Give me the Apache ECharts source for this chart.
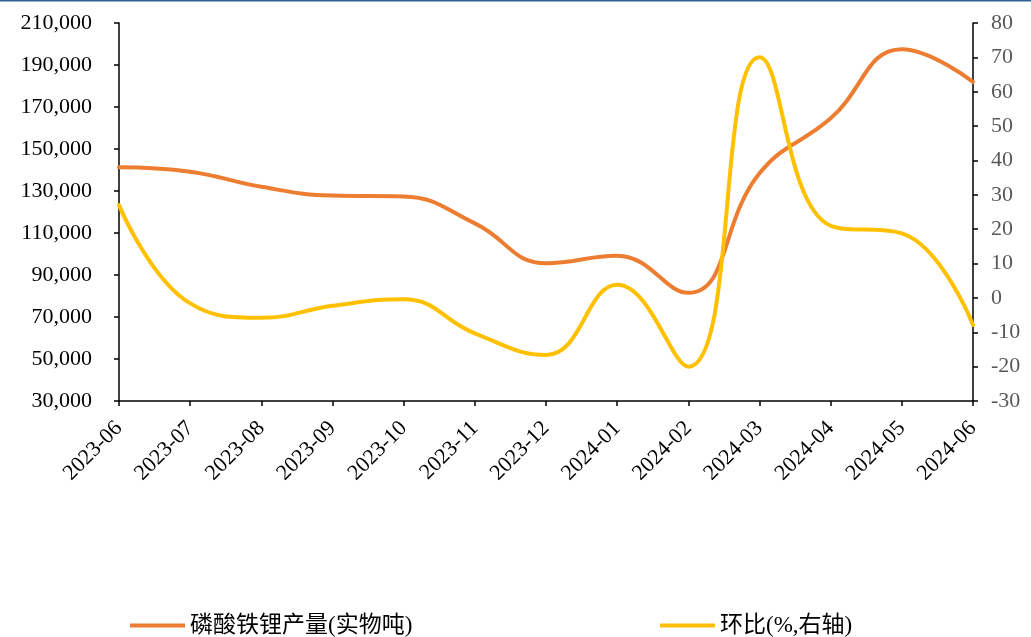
<!DOCTYPE html>
<html>
<head>
<meta charset="utf-8">
<script src="https://cdn.jsdelivr.net/npm/echarts@6/dist/echarts.min.js"></script>
<style>
html,body{margin:0;padding:0;background:#fff;}
#chart{width:1031px;height:637px;}
</style>
</head>
<body>
<div id="chart"></div>
<script>
const categories = ['2023-06','2023-07','2023-08','2023-09','2023-10','2023-11','2023-12','2024-01','2024-02','2024-03','2024-04','2024-05','2024-06'];
const output = [141300, 139200, 132000, 127800, 127400, 114600, 95600, 99200, 81500, 138400, 164600, 197500, 182000];
const mom = [27.0, -1.6, -5.8, -2.3, -0.4, -10.3, -16.6, 3.8, -20.0, 70.0, 21.0, 18.8, -7.9];
const leftTicks = [30000, 50000, 70000, 90000, 110000, 130000, 150000, 170000, 190000, 210000];
const rightTicks = [-30, -20, -10, 0, 10, 20, 30, 40, 50, 60, 70, 80];
const seriesNames = ['磷酸铁锂产量(实物吨)', '环比(%,右轴)'];

const serif = "'Liberation Serif','Times New Roman',serif";
const legendFont = "'Liberation Serif','Noto Sans CJK SC',serif";

const chart = echarts.init(document.getElementById('chart'), null, {renderer: 'canvas'});
chart.setOption({
  animation: false,
  backgroundColor: '#ffffff',
  graphic: [{
    type: 'rect', left: 0, top: 0,
    shape: {width: 1031, height: 1.5},
    style: {fill: '#2f5f93'}
  }],
  grid: {left: 119, right: 58, top: 23, bottom: 236, containLabel: false},
  legend: [{
    data: [seriesNames[0]],
    left: 125, top: 609,
    icon: 'rect', itemWidth: 55, itemHeight: 4, itemGap: 6,
    textStyle: {fontFamily: legendFont, fontSize: 23, color: '#000'}
  }, {
    data: [seriesNames[1]],
    left: 655, top: 609,
    icon: 'rect', itemWidth: 55, itemHeight: 4, itemGap: 6,
    textStyle: {fontFamily: legendFont, fontSize: 23, color: '#000'}
  }],
  xAxis: {
    type: 'category',
    data: categories,
    boundaryGap: false,
    axisLine: {onZero: false, lineStyle: {color: '#000', width: 1.5}},
    axisTick: {show: true, length: 5, lineStyle: {color: '#000', width: 1.5}},
    axisLabel: {rotate: 45, margin: 24, color: '#000', fontFamily: serif, fontSize: 22, interval: 0},
    splitLine: {show: false}
  },
  yAxis: [{
    type: 'value',
    min: 30000, max: 210000,
    axisLine: {show: true, onZero: false, lineStyle: {color: '#000', width: 1.5}},
    axisTick: {show: true, length: 5, customValues: leftTicks, lineStyle: {color: '#000', width: 1.5}},
    axisLabel: {
      customValues: leftTicks,
      margin: 27, color: '#000', fontFamily: serif, fontSize: 22,
      formatter: v => v.toLocaleString('en-US')
    },
    splitLine: {show: false}
  }, {
    type: 'value',
    min: -30, max: 80, interval: 10,
    position: 'right',
    axisLine: {show: true, onZero: false, lineStyle: {color: '#000', width: 1.5}},
    axisTick: {show: true, length: 5, lineStyle: {color: '#000', width: 1.5}},
    axisLabel: {margin: 18, color: '#595959', fontFamily: serif, fontSize: 22},
    splitLine: {show: false}
  }],
  series: [{
    name: seriesNames[0],
    type: 'line',
    data: output,
    yAxisIndex: 0,
    smooth: 0.45,
    smoothConstraint: false,
    symbol: 'none',
    lineStyle: {color: '#ED7D31', width: 4, cap: 'round'},
    itemStyle: {color: '#ED7D31'}
  }, {
    name: seriesNames[1],
    type: 'line',
    data: mom,
    yAxisIndex: 1,
    smooth: 0.45,
    smoothConstraint: false,
    symbol: 'none',
    lineStyle: {color: '#FFC000', width: 4, cap: 'round'},
    itemStyle: {color: '#FFC000'}
  }]
});
</script>
</body>
</html>
